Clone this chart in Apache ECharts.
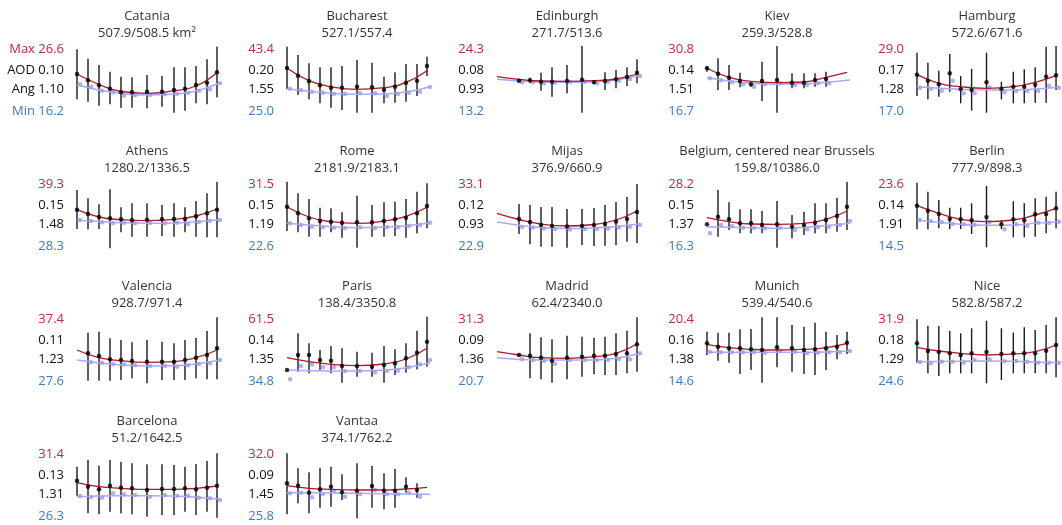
<!DOCTYPE html>
<html><head><meta charset="utf-8">
<script src="https://cdn.jsdelivr.net/npm/echarts@6/dist/echarts.min.js"></script>
<style>html,body{margin:0;padding:0;background:#fff}#c{width:1062px;height:525px}</style>
</head><body><div id="c"></div>
<script>
// ---- data (relative vertical units) ----
const cities = ["Catania","Bucharest","Edinburgh","Kiev","Hamburg","Athens","Rome","Mijas","Belgium, centered near Brussels","Berlin","Valencia","Paris","Madrid","Munich","Nice","Barcelona","Vantaa"];
const areas = ["507.9/508.5","527.1/557.4","271.7/513.6","259.3/528.8","572.6/671.6","1280.2/1336.5","2181.9/2183.1","376.9/660.9","159.8/10386.0","777.9/898.3","928.7/971.4","138.4/3350.8","62.4/2340.0","539.4/540.6","582.8/587.2","51.2/1642.5","374.1/762.2"];
const maxLabels = ["26.6","43.4","24.3","30.8","29.0","39.3","31.5","33.1","28.2","23.6","37.4","61.5","31.3","20.4","31.9","31.4","32.0"];
const aodLabels = ["0.10","0.20","0.08","0.14","0.17","0.15","0.15","0.12","0.15","0.14","0.11","0.14","0.09","0.16","0.18","0.13","0.09"];
const angLabels = ["1.10","1.55","0.93","1.51","1.28","1.48","1.19","0.93","1.37","1.91","1.23","1.35","1.36","1.38","1.29","1.31","1.45"];
const minLabels = ["16.2","25.0","13.2","16.7","17.0","28.3","22.6","22.9","16.3","14.5","27.6","34.8","20.7","14.6","24.6","26.3","25.8"];

const xPos = [0,11,22,33,44,55,70,85,97,108,119,130,140];
const redFitX = [0,22,44,70,97,119,140];
const blueFitX = [0,44,70,97,119,143];

const aod = [
 [46,39.7,34.7,31.3,27.7,27.7,28.3,28.3,30,31.3,35,37.3,47.7],
 [52,44.3,38.7,34.7,32.3,32.3,33.3,32.7,30.3,33.3,37.3,39.3,54],
 [null,null,39.3,39.7,38.3,38.3,39,40.3,37.7,39,40.7,43,47.3],
 [51.7,46.3,42.3,39,35.7,39,40,37.3,37.3,40,41,null,null],
 [45.3,39.3,35.7,46.7,31,30,37.7,31.3,33.3,33.3,35.3,43.3,44.7],
 [45.3,41,38,36.7,35.7,34.7,35.3,35.7,36,36,38.7,41.7,45.3],
 [48.3,41.7,36.7,34,33.3,32.3,32.7,32.7,34,35.7,37.3,41.7,49],
 [null,null,36,33,30,29,28.5,29,30,31,33.5,36,43],
 [30.7,38.3,35.7,31.7,31.7,30,30.7,28.3,30,32.3,35,39,48.3],
 [49.3,44.3,41,36,35.7,34.7,38,30.7,35.7,34.7,40.7,41,46.7],
 [null,36.7,34,30.7,30,29,28.3,28.3,28.3,30,32.3,35,41.7],
 [20,35,35,30,29.3,24,24,23.3,25,26.7,31.7,37.3,48.3],
 [null,null,35,34.3,32.3,29.3,32.3,33.3,34.3,34.3,36,36.7,45.7],
 [46.7,43.3,41.7,41.7,40.7,40,42.7,41.7,40,40.7,41.7,43.3,47.3],
 [46.7,39,38,36.7,35,36.7,38,36,36.7,36.7,36.7,39.3,45],
 [44.3,38.3,35.7,39.3,37.3,36.7,35,36,36,36.7,35.7,37.3,39.3],
 [41.7,39.3,32.3,35.7,38.3,32.7,34.3,39,34.3,34.3,38.3,35,null]
];
const aodHigh = [
 [70.7,61.3,55,48.3,43.3,42.7,45,44,52.7,52.7,54,60.7,73.3],
 [73.3,65,56.7,52.7,52.7,54,60,57.3,43.3,47.7,56,56,63.3],
 [null,null,40.7,42.3,47.3,52.7,55,74,40,47.7,50,52.7,60.7],
 [54,61.7,55,47.3,37.3,58.3,74,46.7,46.7,46.7,48.3,null,null],
 [67.3,57.3,49.3,66,44,51,67.3,38.3,48.3,50.7,52.7,73.3,74],
 [65,56.7,50.7,65.7,47.7,51.7,51.7,50,51.7,47.7,54,61.7,73.3],
 [73.3,61.7,56,47.3,46.7,42.7,59.3,50,52.7,53.3,56,63.3,71.7],
 [null,null,51,50,48,48,46,46,47,50,53,58,71],
 [30.7,65,52.7,45.7,45.7,44,54,40,43.3,51.7,51.7,57.3,73.3],
 [72.3,63.3,55,47.3,47.3,51.7,69,35,53.7,51.7,56.7,58.3,63.3],
 [null,57.3,58.3,51.7,50,47.7,50,48.3,46.7,50,52.3,59,72.7],
 [20,56.7,46.7,40,44,41.7,38.3,37.3,44,40.7,46.7,59.3,73.3],
 [null,null,35,56.7,52.7,50.7,54.3,53.3,52.3,53.3,56.7,59.3,72.7],
 [58.3,57.3,57.3,60.7,61,72.7,72.7,65,63.3,67.3,58.3,55,58.3],
 [70.7,64.3,64,59,56.7,61.7,69.3,61.7,57.3,62.7,60,65,72.7],
 [58.3,65,59.3,65,63.3,61.7,60.7,60.7,60,58.3,61,64,71.7],
 [71.7,56.7,52.7,57.3,58.3,50.7,61.7,59.3,51.7,56,47.7,41.7,null]
];
const aodLow = [
 [20.7,18.3,14.3,15.7,12.3,12.3,11.7,13.3,7.3,9.3,16.7,15.7,22.7],
 [30.7,25,20.7,16.7,12.3,10,7.3,7.3,16.7,17.3,18.3,24,44],
 [null,null,38,36.7,29.3,23.3,26.7,7.3,36,30,31.7,34,36.7],
 [48.3,30,30,32.7,33.3,19,7.3,31.7,31.7,33.3,33.3,null,null],
 [24,20.7,23.3,28.3,16.7,9.3,7.3,20.7,16.7,16.7,17.3,17.3,30],
 [26,25.7,26,6.7,22.7,18.3,18.3,19,18.3,22.7,18.3,17.7,17.7],
 [24,22.7,18.3,18.3,22.7,17.3,7.3,18.3,18.3,19,17.3,21.7,26.7],
 [null,null,21,10.7,8.3,8.3,7.3,10,9,9.3,10,13.3,12],
 [30.7,18.3,25,21.7,21.7,21.7,7.3,16.7,20,21.7,21.7,23.3,25],
 [25.7,25.7,26.7,26,26,21,7.7,26,17.7,17.7,18.3,21.7,26.7],
 [null,9.3,9.3,9.3,10,11.7,6.7,10,10,10,11.7,10.7,10.7],
 [20,18.3,16.7,20,16.7,7.3,13.3,13.3,7.3,15,17.3,20.7,23.3],
 [null,null,35,11.7,10.7,7.3,10.7,13.3,15.7,15,15,16.7,18.3],
 [35,29.3,27.3,16,20,7.3,22.7,18.3,16,15,20,30.7,36],
 [27.3,16.7,14,16.7,16.7,16.7,6.7,10,16.7,16.7,16.7,16.7,12.7],
 [29.3,11.7,10.7,13.3,11.7,10.7,8.3,10,10,13.3,10,13.3,7.3],
 [10.7,21.7,11.7,17.3,18.3,25,6.7,17.3,15.7,17.3,32.3,27.3,null]
];
const ang = [
 [35.7,33,29.3,27.7,24.3,24.7,25,25.7,26.3,27.3,29.3,30.7,36.7],
 [31.3,30,28.3,27.3,26,26,26.7,26.7,24,26,27.3,28.3,33],
 [null,null,37.7,37.7,36.7,37.3,38,38.3,36.7,38.3,39.3,41,44],
 [41.7,39.7,37.7,35.7,33.3,35.7,36.7,35,35,36.7,36.7,null,null],
 [32.3,31,29.3,39.3,26.7,26.7,32.7,27.7,29,29,29,34.3,32.3],
 [35,34,32.7,31.7,32.3,31.7,32,31.7,32.3,31,33,34.3,35],
 [31.7,30,28.3,27.7,27.3,26.7,27.7,26.7,27.7,27.7,29,30,32.3],
 [null,null,28,27.5,26.5,26,25.5,26,26,26.5,27.5,28,30],
 [21.7,30,29,27.3,27.3,26.7,27.3,25,25.7,27.7,28.3,30,34],
 [35,34,33,31,30.7,30.3,33,25.7,30.7,29,32.3,32,33.3],
 [null,27.7,27.3,26,25.7,25,24,24,23.3,24.7,26,26.7,30],
 [10.7,24,25.7,22.7,22.7,19,19,17.7,19,19.3,22.7,25.7,30],
 [null,null,30.7,30,29.3,26,30,30,30,30,31,30.7,36.7],
 [38.3,37.7,37.7,37.7,37.7,37.3,39.3,38.3,36.7,37.3,37.7,37.7,39],
 [28,26.7,28.3,28.3,27.3,30,30.7,29,29,28.3,27.3,27.3,27.3],
 [29,27.7,27.3,31.7,30.7,30,28.3,30,29.3,29.3,27.3,26.7,25],
 [31.7,32.3,27.7,31,34.3,28.3,30.7,35,30.7,30.7,32.3,28.3,null]
];
const aodFit = [
 [46,35.5,28.5,26.7,29.3,34,47.5],
 [52,39.3,33.3,30.7,32.3,37.7,49.3],
 [43.3,40.7,39,38.7,39.3,41,46],
 [51.7,42.7,38.7,37.3,38,42.7,47.7],
 [45.3,36.7,33.3,31.7,33.3,37.7,44.3],
 [45.3,38,35.3,34.3,35.7,39,46],
 [48.3,38,33.3,31.7,34,38.7,47.7],
 [41.7,35.5,31,29,30.5,35,44],
 [37.3,33.3,31,30.7,31.7,35.7,44],
 [49.3,41.7,35.7,33.3,35,40,46.7],
 [40,32.3,29.3,27.7,28.3,32.3,40],
 [32.3,28.3,25.7,24.3,26,31,41.7],
 [38.3,35,32.3,31.7,33.3,36.7,46],
 [45.7,42.3,40.7,40,40.7,42.3,46.7],
 [42.7,39,36.7,35,36,38.3,45],
 [42.3,38.3,36.7,35.7,35.7,36.7,39],
 [39.3,36.7,35.7,35,35,36,37.7]
];
const angFit = [
 [35,26.5,25,26,29,37.3],
 [31.3,26.7,25.7,26,28,33.3],
 [40.7,38,37.7,38.3,40,44.7],
 [42.3,36.7,35.7,36.3,37.7,40],
 [33.3,30.7,30,30,31,32.7],
 [34.7,32.3,31.7,32,33.3,35.3],
 [31.7,28.3,27.3,28,29.3,32.3],
 [33,27.5,26.5,27,28.5,31],
 [28.3,27.3,26.7,27.7,29.3,31.7],
 [35,30.7,29.7,30,31.7,33.3],
 [30,25,24,24.3,26,30],
 [20,19,19,20,22.3,27.3],
 [32.3,30,30,30,31.7,36.7],
 [37.7,37.7,37.7,37.7,38,39],
 [28.3,28.7,29,28.7,28,27.3],
 [28.3,29.3,29.3,29,27.7,25.7],
 [32.3,32,31.7,31.3,31,30.7]
];

// ---- layout ----
const COL_X = [77, 287, 497, 707, 917];
const ROW_BASE = [120, 255, 390, 525];
const FONT = '"Open Sans", "Noto Sans", sans-serif';
const RED = '#c0283c', BLUE_TXT = '#3b7cc2';

const grids = [], xAxes = [], yAxes = [], series = [], texts = [];
cities.forEach((name, i) => {
  const col = i % 5, row = Math.floor(i / 5);
  const cx = COL_X[col], base = ROW_BASE[row];
  grids.push({left: cx - 3, top: base - 80, width: 149, height: 80});
  xAxes.push({type: 'value', gridIndex: i, min: -3, max: 146, show: false});
  yAxes.push({type: 'value', gridIndex: i, min: 0, max: 80, show: false});

  const bars = [], blacks = [], blues = [];
  xPos.forEach((x, k) => {
    if (aod[i][k] != null) {
      bars.push([x, aodLow[i][k], aodHigh[i][k]]);
      blacks.push([x, aod[i][k]]);
    }
    if (ang[i][k] != null) blues.push([x + 3, ang[i][k]]);
  });
  series.push({
    type: 'custom', xAxisIndex: i, yAxisIndex: i, data: bars, z: 2,
    encode: {x: 0, y: [1, 2]},
    renderItem: (p, api) => {
      const a = api.coord([api.value(0), api.value(1)]);
      const b = api.coord([api.value(0), api.value(2)]);
      return {type: 'line', shape: {x1: a[0], y1: a[1], x2: b[0], y2: b[1]},
              style: {stroke: '#1a1a1a', lineWidth: 1.4}};
    }
  });
  series.push({type: 'line', xAxisIndex: i, yAxisIndex: i, smooth: 0.5, showSymbol: false, z: 3,
    data: angFit[i].map((v, k) => [blueFitX[k], v]),
    lineStyle: {color: '#aaaaf4', width: 1.6}});
  series.push({type: 'scatter', xAxisIndex: i, yAxisIndex: i, data: blues, z: 4,
    symbolSize: 4.5, itemStyle: {color: '#9c9cf0'}});
  series.push({type: 'line', xAxisIndex: i, yAxisIndex: i, smooth: 0.5, showSymbol: false, z: 5,
    data: aodFit[i].map((v, k) => [redFitX[k], v]),
    lineStyle: {color: '#b2182b', width: 1.3}});
  series.push({type: 'scatter', xAxisIndex: i, yAxisIndex: i, data: blacks, z: 6,
    symbolSize: 4.5, itemStyle: {color: '#000'}});

  const first = i === 0;
  const lx = cx - 13;
  const lab = (t, y, fill) => texts.push({type: 'text', x: lx, y: y,
    style: {text: t, fill: fill, font: '13px ' + FONT, textAlign: 'right', align: 'right',
            textVerticalAlign: 'middle', verticalAlign: 'middle'}});
  lab((first ? 'Max ' : '') + maxLabels[i], base - 71, RED);
  lab((first ? 'AOD ' : '') + aodLabels[i], base - 50, '#111');
  lab((first ? 'Ang ' : '') + angLabels[i], base - 31, '#111');
  lab((first ? 'Min ' : '') + minLabels[i], base - 9, BLUE_TXT);
  const tt = (t, y) => texts.push({type: 'text', x: cx + 70, y: y,
    style: {text: t, fill: '#333', font: '13px ' + FONT, textAlign: 'center', align: 'center',
            textVerticalAlign: 'middle', verticalAlign: 'middle'}});
  tt(name, base - 104);
  tt(areas[i] + (first ? ' km\u00b2' : ''), base - 87);
});

const chart = echarts.init(document.getElementById('c'), null, {renderer: 'canvas'});
chart.setOption({animation: false, grid: grids, xAxis: xAxes, yAxis: yAxes, series: series,
  graphic: {elements: texts}});
</script></body></html>
